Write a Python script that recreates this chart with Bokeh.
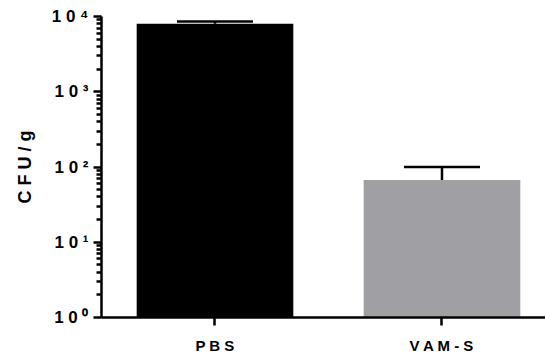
from bokeh.plotting import figure
from bokeh.models import Range1d, FixedTicker, ColumnDataSource
from bokeh.embed import file_html
from bokeh.resources import INLINE

# ---- data ----
categories = ["PBS", "VAM-S"]
cat_labels = ["P B S", "V A M - S"]
cat_pos = [0.5, 1.5]
means = [8000, 67]
upper = [8600, 100]
colors = ["#000000", "#a09fa4"]
y_ticks = [1, 10, 100, 1000, 10000]
y_tick_labels = ["1 0 \u2070", "1 0 \u00b9", "1 0 \u00b2", "1 0 \u00b3", "1 0 \u2074"]

FONT = "Liberation Sans"

p = figure(width=545, height=356, output_backend="svg", toolbar_location=None,
           y_axis_type="log",
           x_range=Range1d(0, 1.956), y_range=Range1d(1, 10000),
           min_border_left=101, min_border_right=0, min_border_top=16, min_border_bottom=38)
p.outline_line_color = None
p.xgrid.visible = False
p.ygrid.visible = False
p.background_fill_color = "white"
p.border_fill_color = "white"

bar_w = 0.69
cap_w = 0.335
src = ColumnDataSource(dict(x=cat_pos, top=means, up=upper, color=colors,
                            xl=[c - cap_w / 2 for c in cat_pos],
                            xr=[c + cap_w / 2 for c in cat_pos]))
p.vbar(x="x", top="top", bottom=1, width=bar_w, fill_color="color", line_color=None, source=src)
p.segment(x0="x", y0="top", x1="x", y1="up", line_color="black", line_width=2.5, source=src)
p.segment(x0="xl", y0="up", x1="xr", y1="up", line_color="black", line_width=2.5, source=src)

minor = [m * 10 ** d for d in range(0, 4) for m in range(2, 10)]
p.yaxis.ticker = FixedTicker(ticks=y_ticks, minor_ticks=minor)
p.yaxis.major_label_overrides = {t: l for t, l in zip(y_ticks, y_tick_labels)}
p.xaxis.ticker = FixedTicker(ticks=cat_pos)
p.xaxis.major_label_overrides = {c: l for c, l in zip(cat_pos, cat_labels)}
p.xaxis.minor_tick_line_color = None

for ax in (p.xaxis, p.yaxis):
    ax.axis_line_width = 2.5
    ax.axis_line_color = "black"
    ax.major_tick_line_width = 2.5
    ax.major_tick_line_color = "black"
    ax.major_tick_in = 0
    ax.major_tick_out = 8
    ax.major_label_text_font = FONT
    ax.major_label_text_font_style = "bold"
    ax.major_label_text_color = "black"

p.yaxis.minor_tick_line_width = 2.5
p.yaxis.minor_tick_line_color = "black"
p.yaxis.minor_tick_in = 0
p.yaxis.minor_tick_out = 5
p.yaxis.major_label_text_font_size = "17px"
p.yaxis.major_label_standoff = 5
p.xaxis.major_label_text_font_size = "15px"
p.xaxis.major_label_standoff = 11

p.yaxis.axis_label = "C F U / g"
p.yaxis.axis_label_text_font = FONT
p.yaxis.axis_label_text_font_style = "bold"
p.yaxis.axis_label_text_font_size = "18px"
p.yaxis.axis_label_text_color = "black"
p.yaxis.axis_label_standoff = 14

open("out.html", "w").write(file_html(p, INLINE))
